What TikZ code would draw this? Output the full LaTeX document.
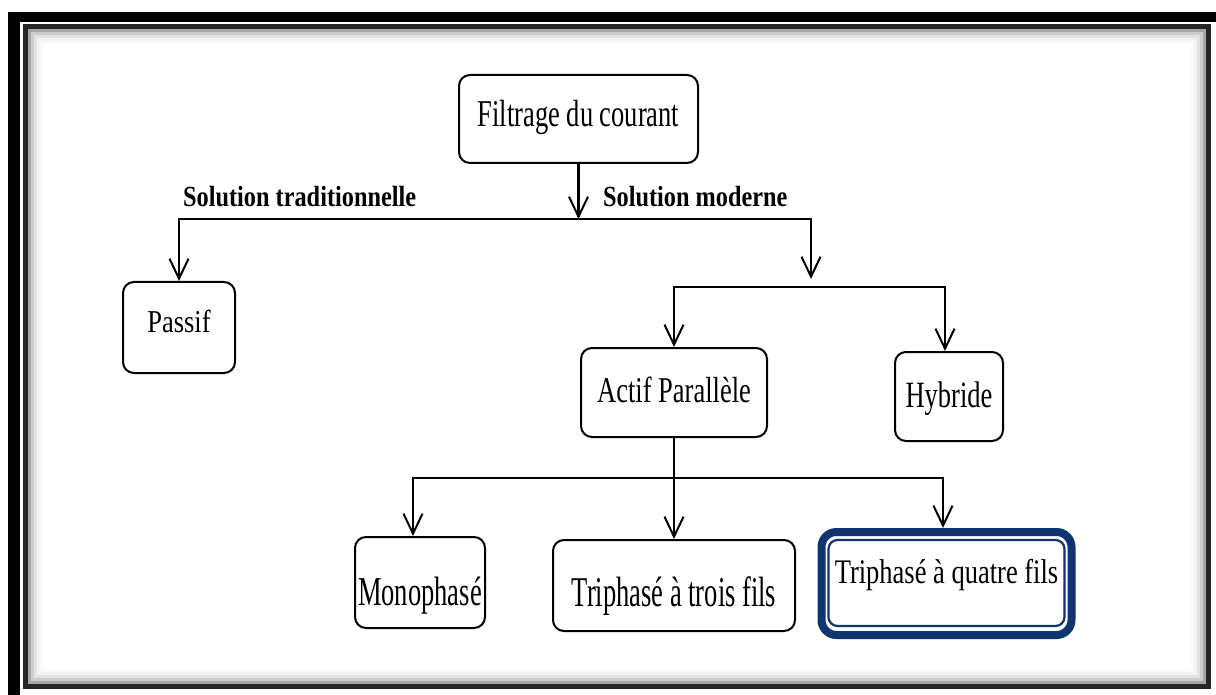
\documentclass[tikz,border=0pt]{standalone}
\usepackage{fontspec}
\usepackage{graphicx}
\setmainfont{Liberation Serif}
\usetikzlibrary{arrows.meta}
\definecolor{navy}{RGB}{16,52,112}
\newcommand{\ntext}[2][1.4]{\scalebox{1}[#1]{#2}}
\begin{document}
\begin{tikzpicture}[x=1pt,y=-1pt,
  box/.style={draw=black, line width=2pt, rounded corners=11pt, inner sep=0pt,
    text depth=0pt, font=\fontsize{26.5}{30}\selectfont},
  conn/.style={line width=2.2pt, black, line cap=rect},
  arr/.style={conn, -{Straight Barb[length=20pt,width=19pt,line width=2pt]}},
  lab/.style={font=\bfseries\fontsize{24.3}{28}\selectfont, inner sep=0pt, anchor=base west}
]
\useasboundingbox (0,0) rectangle (1216,695);
\clip (0,0) rectangle (1216,695);
% frame
\fill[black] (8,12) rectangle (1240,720);
\fill[white] (20,22) rectangle (1240,720);
\draw[line width=5pt, black!85] (25.5,27) rectangle (1208,686);
\foreach \i/\c in {1/35,2/20,3/11,4/5,5/2}{
  \draw[line width=3pt, black!\c] ({26.5+3*\i},{28+3*\i}) rectangle ({1207-3*\i},{685-3*\i});
}
% nodes
\node[box, minimum width=239pt, minimum height=88pt, text height=16pt] (root) at (578.5,119) {\ntext[1.43]{Filtrage du courant}};
\node[box, minimum width=112pt, minimum height=91pt, text height=9pt] (passif) at (179,327.5) {\ntext[1.2]{Passif}};
\node[box, minimum width=186pt, minimum height=89pt, text height=20pt] (actif) at (674,392.5) {\ntext[1.37]{Actif Parallèle}};
\node[box, minimum width=108pt, minimum height=89pt, text height=22pt] (hybride) at (949,396.5) {\ntext[1.4]{Hybride}};
\node[box, minimum width=130pt, minimum height=91pt, text height=46pt] (mono) at (420,582.5) {\ntext[1.55]{Monophasé}};
\node[box, minimum width=242pt, minimum height=91pt, text height=42pt] (trois) at (674,585.5) {\ntext[1.6]{Triphasé à trois fils}};
\node[box, draw=navy, line width=8pt, rounded corners=15pt, minimum width=250pt, minimum height=103pt, text height=0pt] (quatre) at (946.5,583.5) {\ntext[1.3]{Triphasé à quatre fils}};
\draw[navy, line width=2.2pt, rounded corners=9pt] ([shift={(11,12)}]quatre.north west) rectangle ([shift={(-11,-13)}]quatre.south east);
% labels
\node[lab] (trad) at (183,207) {\ntext[1.2]{Solution traditionnelle}};
\node[lab] (mod) at (603,207) {\ntext[1.2]{Solution moderne}};
% connectors
\coordinate (hL) at (179,219);
\coordinate (hR) at (811,219);
\coordinate (r2) at (811,279);
\coordinate (h2L) at (674,287);
\coordinate (h2R) at (945,287);
\coordinate (h3L) at (413,478);
\coordinate (h3R) at (943,478);
\draw[arr] (root.south) -- (root.south |- hL);
\draw[arr] (hR) -- (hL) -- (passif.north);
\draw[arr] (hR) -- (r2);
\draw[arr] (h2R) -- (h2L) -- (actif.north);
\draw[arr] (h2R) -- (h2R |- hybride.north);
\draw[arr] (actif.south) -- (trois.north);
\draw[arr] (h3R) -- (h3L) -- (h3L |- mono.north);
\draw[arr] (h3R) -- (h3R |- quatre.north);
\end{tikzpicture}
\end{document}
